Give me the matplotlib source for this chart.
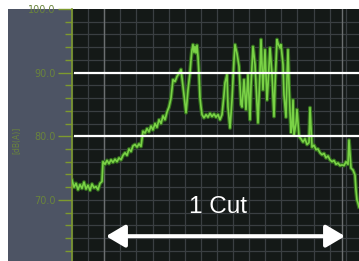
import matplotlib
matplotlib.use("Agg")
import matplotlib.pyplot as plt
import numpy as np
from matplotlib.patches import Rectangle, FancyArrowPatch

# time index (screen samples) and sound level in dB(A)
t = [0, 2, 4, 6, 8, 10, 12, 14, 16, 18, 20, 22, 24, 26, 28, 30, 31, 33, 35, 37,
     39, 41, 43, 45, 47, 49, 51, 53, 55, 57, 59, 61, 63, 65, 67, 69, 71, 73, 75, 77,
     79, 81, 83, 85, 87, 89, 91, 93, 95, 97, 99, 101, 103, 105, 107, 109, 110, 112, 114, 116,
     118, 119, 120, 121, 122, 123, 124, 125, 126, 127, 128, 129, 130, 132, 134, 136, 138, 140, 142, 144,
     146, 148, 150, 152, 153, 155, 156, 158, 160, 162, 163, 165, 167, 169, 170, 172, 174, 176, 178, 179,
     181, 183, 185, 186, 188, 189, 191, 193, 195, 196, 198, 200, 202, 203, 205, 206, 208, 209, 211, 212,
     214, 215, 216, 217, 218, 219, 220, 221, 222, 224, 225, 227, 229, 231, 233, 235, 237, 238, 240, 242,
     244, 246, 248, 250, 252, 254, 256, 258, 260, 262, 264, 266, 268, 270, 272, 274, 276, 277, 279, 281,
     283, 284, 285, 286, 287]
level = [73.1, 72.0, 72.6, 71.6, 72.4, 71.8, 72.8, 71.7, 72.3, 71.5, 72.5, 71.9, 72.1, 71.6, 72.6, 72.9, 76.0, 75.6, 76.2, 75.7,
         76.3, 75.9, 76.4, 76.0, 76.6, 76.3, 77.0, 77.4, 77.0, 78.0, 77.6, 78.5, 78.7, 78.3, 78.8, 78.4, 80.8, 80.5, 81.2, 80.7,
         81.6, 81.0, 82.0, 81.4, 82.6, 82.0, 83.2, 82.6, 83.8, 84.6, 86.0, 88.9, 88.6, 89.4, 89.9, 90.5, 89.2, 86.5, 83.7, 87.3,
         90.0, 92.0, 93.6, 94.4, 93.2, 94.1, 93.1, 94.3, 92.5, 89.7, 86.0, 84.6, 83.4, 82.9, 83.4, 83.0, 83.6, 83.1, 83.5, 83.0,
         83.4, 82.6, 83.4, 86.5, 88.4, 89.7, 84.6, 81.3, 85.7, 92.0, 94.4, 93.0, 91.0, 85.0, 84.6, 88.9, 84.2, 89.7, 82.6, 88.0,
         94.1, 91.3, 85.0, 82.1, 90.0, 95.2, 87.3, 93.6, 85.7, 88.0, 93.9, 89.7, 83.1, 88.0, 95.2, 94.6, 93.9, 94.4, 91.3, 86.5,
         83.0, 89.0, 93.6, 88.0, 84.0, 80.6, 81.5, 85.7, 80.2, 82.0, 84.2, 80.0, 79.6, 79.1, 79.6, 78.7, 79.0, 84.5, 78.3, 78.6,
         77.9, 78.0, 77.4, 77.1, 77.3, 76.6, 76.9, 76.3, 76.0, 76.2, 75.6, 75.8, 75.4, 75.5, 75.4, 76.0, 75.6, 79.4, 75.0, 74.7,
         73.9, 71.5, 70.0, 69.5, 68.9]

ytick_vals = [70.0, 80.0, 90.0, 100.0]
ytick_labels = ["70.0", "80.0", "90.0", "100.0"]
ref_levels = [80.0, 90.0]
cut_start, cut_end = 34, 273
cut_label = "1 Cut"
ylabel = "[dB(A)]"

W, H = 359, 261
fig = plt.figure(figsize=(W / 100, H / 100), dpi=100)
fig.patch.set_facecolor("white")

# gray instrument panel
fig.add_artist(Rectangle((8 / W, 0), 1 - 8 / W, (H - 9) / H, transform=fig.transFigure,
                         facecolor="#4d5464", edgecolor="none", zorder=0))

ax = fig.add_axes([72 / W, 0, (W - 72) / W, (H - 9) / H])
ax.set_facecolor("#141917")
ax.set_xlim(0, 287)
ax.set_ylim(60.4, 100)

# grid
for gx in np.arange(0, 288, 16.1):
    ax.axvline(gx, color="#3a3f42", lw=0.9, zorder=1)
for gy in np.arange(62, 100, 2):
    ax.axhline(gy, color="#3a3f42", lw=0.9, zorder=1)
for gx in (32, 270):
    ax.axvline(gx, color="#6b6f70", lw=1.0, zorder=1)

# signal with glow
ax.plot(t, level, color="#336e1e", lw=2.8, zorder=2, solid_joinstyle="round")
ax.plot(t, level, color="#7ad246", lw=1.2, zorder=3, solid_joinstyle="round")

for r in ref_levels:
    ax.plot([2, 287], [r, r], color="white", lw=1.6, zorder=4, solid_capstyle="butt")

arrow = FancyArrowPatch((cut_start, 64.3), (cut_end, 64.3),
                        arrowstyle="<|-|>,head_length=11.5,head_width=6.8",
                        color="white", lw=2.9, mutation_scale=1, zorder=5, shrinkA=0, shrinkB=0)
ax.add_patch(arrow)
ax.text(146, 68.9, cut_label, color="white", fontsize=17.5,
        family="Liberation Sans", ha="center", va="center", zorder=5)

# axes styling
for s in ["top", "right", "bottom"]:
    ax.spines[s].set_visible(False)
ax.spines["left"].set_color("#7d9a2e")
ax.spines["left"].set_linewidth(1.2)
ax.set_xticks([])
ax.set_yticks(ytick_vals)
ax.set_yticklabels(ytick_labels)
ax.set_yticks(np.arange(62, 100, 2), minor=True)
ax.tick_params(axis="y", which="major", length=10, width=1.0, color="#7d9a2e",
               labelcolor="#6a843c", labelsize=7, pad=2)
ax.tick_params(axis="y", which="minor", length=5, width=1.0, color="#7d9a2e")

fig.text(17 / W, 1 - 140 / H, ylabel, rotation=90, color="#6a843c", fontsize=5.5,
         ha="center", va="center")

fig.savefig("out.png", dpi=100, facecolor=fig.get_facecolor())
